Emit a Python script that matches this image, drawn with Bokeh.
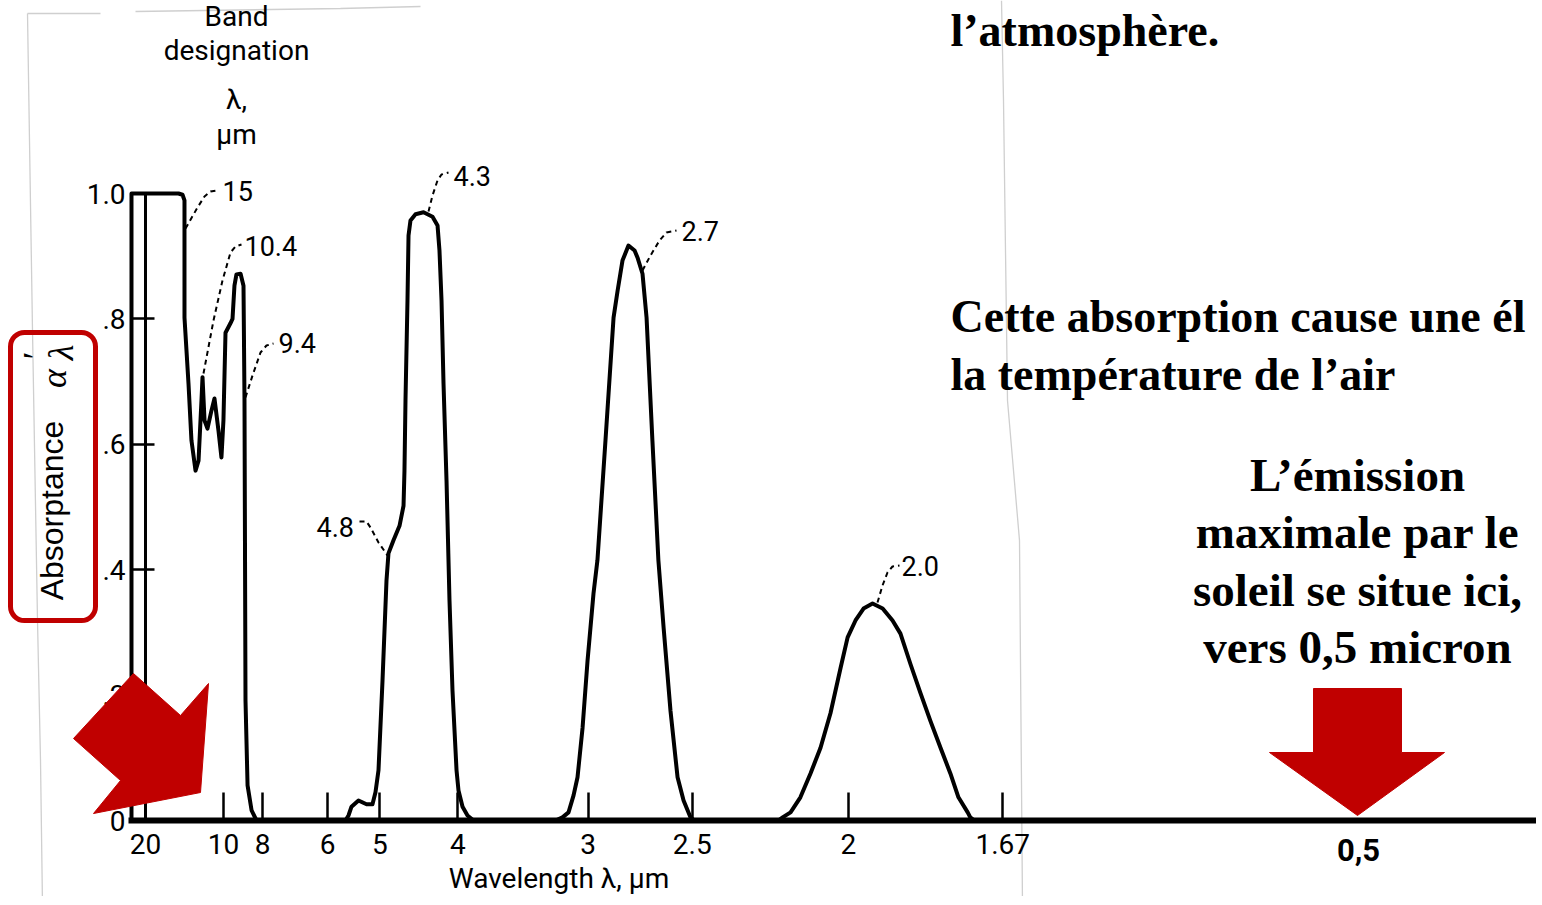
from math import pi
from bokeh.plotting import figure
from bokeh.models import Range1d, FixedTicker, BoxAnnotation
from bokeh.core.properties import value
from bokeh.embed import file_html
from bokeh.resources import INLINE

# ---------------- data ----------------
# absorption bands of the atmosphere: wavelength (µm) -> absorptance α'λ
wl_15 = [24.37, 24.37, 14.06, 13.57, 13.34, 13.34, 12.90, 12.59, 12.19, 11.91, 11.65,
         11.56, 11.39, 11.15, 10.84, 10.62, 10.34, 10.14, 10.01, 9.88, 9.58, 9.46,
         9.35, 9.24, 9.02, 8.87, 8.82, 8.77, 8.67, 8.48, 8.26]
ab_15 = [0, 1.0, 1.0, 0.998, 0.989, 0.802, 0.697, 0.606, 0.558, 0.574, 0.670,
         0.707, 0.638, 0.625, 0.654, 0.673, 0.622, 0.579, 0.638, 0.778, 0.793, 0.80,
         0.853, 0.871, 0.872, 0.853, 0.670, 0.191, 0.056, 0.016, 0]

wl_43 = [5.617, 5.557, 5.498, 5.366, 5.222, 5.120, 5.070, 5.021, 4.957, 4.895, 4.865,
         4.790, 4.703, 4.647, 4.634, 4.620, 4.593, 4.579, 4.553, 4.487, 4.386, 4.278,
         4.220, 4.198, 4.175, 4.153, 4.120, 4.088, 4.056, 4.014, 3.994, 3.953, 3.904, 3.846]
ab_43 = [0, 0.008, 0.022, 0.032, 0.026, 0.026, 0.045, 0.080, 0.223, 0.383, 0.426,
         0.447, 0.470, 0.502, 0.558, 0.670, 0.829, 0.933, 0.957, 0.967, 0.970, 0.963,
         0.949, 0.909, 0.829, 0.697, 0.542, 0.351, 0.207, 0.080, 0.048, 0.022, 0.008, 0]

wl_27 = [3.200, 3.155, 3.117, 3.086, 3.062, 3.032, 3.003, 2.969, 2.947, 2.903, 2.860,
         2.839, 2.814, 2.784, 2.754, 2.740, 2.716, 2.697, 2.670, 2.643, 2.620, 2.590,
         2.560, 2.535, 2.507, 2.491]
ab_27 = [0, 0.005, 0.013, 0.040, 0.069, 0.148, 0.255, 0.362, 0.415, 0.606, 0.802,
         0.845, 0.893, 0.917, 0.909, 0.898, 0.872, 0.802, 0.606, 0.415, 0.308, 0.175,
         0.069, 0.032, 0.005, 0]

wl_20 = [2.197, 2.184, 2.160, 2.131, 2.102, 2.074, 2.047, 2.020, 2.002, 1.982, 1.962,
         1.940, 1.916, 1.893, 1.875, 1.853, 1.831, 1.810, 1.789, 1.769, 1.753, 1.735,
         1.730, 1.722]
ab_20 = [0, 0.005, 0.013, 0.037, 0.075, 0.116, 0.171, 0.244, 0.292, 0.319, 0.338,
         0.346, 0.338, 0.319, 0.298, 0.250, 0.203, 0.159, 0.116, 0.075, 0.037, 0.013,
         0.005, 0]

x_tick_wl = [20, 10, 8, 6, 5, 4, 3, 2.5, 2, 1.67]
x_tick_labels = ["20", "10", "8", "6", "5", "4", "3", "2.5", "2", "1.67"]
y_ticks = [0, 0.2, 0.4, 0.6, 0.8, 1.0]
y_tick_labels = ["0", ".2", ".4", ".6", ".8", "1.0"]
band_names = ["15", "10.4", "9.4", "4.8", "4.3", "2.7", "2.0"]
ref_line_wl = 20
sun_peak_label = "0,5"

# ---------------- layout helpers (picture pixel -> data units) ----------------
W, H = 1536, 896


def kx(px):
    return 0.05 + (px - 145) / 1562.0


def ay(py):
    return (820 - py) / 627.0


RED = "#c00000"
SANS = "Roboto"
SERIF = "Liberation Serif"

p = figure(width=W, height=H, output_backend="svg", toolbar_location=None,
           x_range=Range1d(kx(0), kx(W)), y_range=Range1d(ay(H), ay(0)),
           min_border=0, min_border_left=0, min_border_right=0,
           min_border_top=0, min_border_bottom=0)
p.outline_line_color = None
p.grid.visible = False
p.background_fill_color = "white"
p.border_fill_color = "white"

# x axis (linear in wavenumber, labelled in wavelength)
x_ticks = [1.0 / w for w in x_tick_wl]
xa = p.xaxis[0]
xa.fixed_location = 0
xa.bounds = (kx(128), kx(W))
xa.ticker = FixedTicker(ticks=x_ticks, minor_ticks=[])
xa.major_label_overrides = {t: l for t, l in zip(x_ticks, x_tick_labels)}
xa.axis_line_width = 6
xa.axis_line_color = "black"
xa.major_tick_in = 28
xa.major_tick_out = 0
xa.major_tick_line_width = 2.5
xa.minor_tick_line_color = None
xa.major_label_standoff = 13
xa.major_label_text_font = SANS
xa.major_label_text_font_size = "28px"
xa.major_label_text_color = "black"

ya = p.yaxis[0]
ya.fixed_location = kx(130)
ya.ticker = FixedTicker(ticks=y_ticks, minor_ticks=[])
ya.major_label_overrides = {t: l for t, l in zip(y_ticks, y_tick_labels)}
ya.axis_line_color = None
ya.major_tick_in = 24
ya.major_tick_out = 0
ya.major_tick_line_width = 2.5
ya.minor_tick_line_color = None
ya.major_label_standoff = 5
ya.major_label_text_font = SANS
ya.major_label_text_font_size = "28px"
ya.major_label_text_color = "black"

# faint edges of the scanned picture
edge_lines = [
    [(27, 13), (32, 330), (37, 620), (40, 760), (42, 905)],
    [(27, 13), (100, 13)],
    [(135, 11), (340, 8), (420, 6)],
    [(1001, 0), (1003, 100), (1007, 400), (1019, 540), (1022, 905)],
]
p.multi_line(xs=[[kx(a) for a, b in seg] for seg in edge_lines],
             ys=[[ay(b) for a, b in seg] for seg in edge_lines],
             line_color="#cfcfcf", line_width=1.3)

# reference vertical at 20 µm
p.segment(x0=[1.0 / ref_line_wl], y0=[0], x1=[1.0 / ref_line_wl], y1=[1.0],
          line_color="black", line_width=3)

# absorption bands
for wl, ab in [(wl_15, ab_15), (wl_43, ab_43), (wl_27, ab_27), (wl_20, ab_20)]:
    p.line(x=[1.0 / w for w in wl], y=ab, line_color="black", line_width=4,
           line_join="round")

# band designation leaders
leaders = [
    [(185, 228), (197, 207), (204, 196), (210, 191), (216, 190)],
    [(203, 373), (213, 320), (222, 280), (230, 252), (235, 246), (241, 244)],
    [(245, 397), (252, 375), (260, 352), (266, 345), (273, 343)],
    [(359, 521), (366, 521), (370, 527), (378, 542), (387, 555)],
    [(428, 211), (432, 195), (437, 180), (441, 174), (448, 172)],
    [(642, 270), (650, 255), (659, 240), (666, 232), (676, 230)],
    [(877, 602), (882, 585), (887, 572), (892, 566), (899, 565)],
]
p.multi_line(xs=[[kx(a) for a, b in seg] for seg in leaders],
             ys=[[ay(b) for a, b in seg] for seg in leaders],
             line_color="black", line_width=2, line_dash="5 4")

label_pos = [(222, 190), (244, 245), (278, 342), (316, 526), (453, 175), (681, 230), (901, 565)]
p.text(x=[kx(a) for a, b in label_pos], y=[ay(b) for a, b in label_pos],
       text=band_names,
       text_font=value(SANS), text_font_size=value("27px"), text_color="black",
       text_align="left", text_baseline="middle")

# "Band designation" header
hdr = ["Band", "designation", "λ,", "µm"]
hdr_mid = [16, 50, 99, 134]
p.text(x=[kx(236)] * 4, y=[ay(b) for b in hdr_mid], text=hdr,
       text_font=value(SANS), text_font_size=value("28px"), text_color="black",
       text_align="center", text_baseline="middle")

# x axis title
p.text(x=[kx(562)], y=[ay(878)], text=["Wavelength  λ, µm"],
       text_font=value(SANS), text_font_size=value("28px"), text_color="black",
       text_align="center", text_baseline="middle")

# y axis title + red rounded box
p.text(x=[kx(51)], y=[ay(510)], text=["Absorptance"], angle=pi / 2,
       text_font=value("Liberation Sans"), text_font_size=value("32px"),
       text_color="black", text_align="center", text_baseline="middle")
p.text(x=[kx(53), kx(35), kx(60)], y=[ay(378), ay(357), ay(352)], text=["α", "′", "λ"],
       angle=pi / 2, text_font=value(SERIF), text_font_style="italic",
       text_font_size=value("36px"), text_color="black",
       text_align="center", text_baseline="middle")
p.add_layout(BoxAnnotation(left=kx(10), right=kx(95), top=ay(332), bottom=ay(620),
                           fill_color=None, fill_alpha=0, line_color=RED, line_alpha=1,
                           line_width=5, border_radius=14))

# red arrows
arrow_diag = [(73, 738), (133, 673), (180, 715), (208, 683), (200, 792), (93, 813), (120, 780)]
arrow_down = [(1313, 688), (1401, 688), (1401, 752), (1444, 752), (1357, 815), (1269, 752), (1313, 752)]
for arr in (arrow_diag, arrow_down):
    r = p.patch(x=[kx(a) for a, b in arr], y=[ay(b) for a, b in arr],
                fill_color=RED, line_color=RED, line_width=1)
    r.level = "overlay"

# 0,5 marker
p.text(x=[kx(1358)], y=[ay(849)], text=[sun_peak_label],
       text_font=value(SANS), text_font_size=value("31px"), text_font_style="bold",
       text_color="black", text_align="center", text_baseline="middle")

# French slide text (vertical centres of each line)
fr_left = ["l’atmosphère.", "Cette absorption cause une él", "la température de l’air"]
fr_left_mid = [30, 316, 374]
p.text(x=[kx(950)] * 3, y=[ay(b) for b in fr_left_mid], text=fr_left,
       text_font=value(SERIF), text_font_size=value("46px"), text_font_style="bold",
       text_color="black", text_align="left", text_baseline="middle")

fr_right = ["L’émission", "maximale par le", "soleil se situe ici,", "vers 0,5 micron"]
fr_right_mid = [474, 531, 589, 646]
p.text(x=[kx(1357)] * 4, y=[ay(b) for b in fr_right_mid], text=fr_right,
       text_font=value(SERIF), text_font_size=value("47px"), text_font_style="bold",
       text_color="black", text_align="center", text_baseline="middle")

open("out.html", "w").write(file_html(p, INLINE))
